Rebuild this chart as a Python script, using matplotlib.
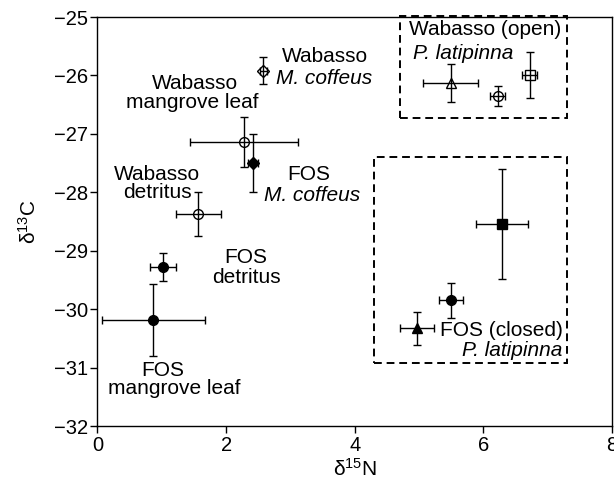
import matplotlib
matplotlib.use("Agg")
import matplotlib.pyplot as plt
from matplotlib.patches import Rectangle

plt.rcParams['font.family'] = ['Liberation Sans', 'DejaVu Sans']
plt.rcParams['mathtext.default'] = 'regular'

# --- data (d15N, d13C, with error) ---
names = ['Wab M. coffeus', 'Wab mangrove leaf', 'FOS M. coffeus', 'Wab detritus',
         'FOS detritus', 'FOS mangrove leaf', 'Wab P. lat tri', 'Wab P. lat circ',
         'Wab P. lat sq', 'FOS P. lat sq', 'FOS P. lat circ', 'FOS P. lat tri']
d15n = [2.58, 2.28, 2.42, 1.57, 1.02, 0.87, 5.49, 6.22, 6.72, 6.29, 5.50, 4.97]
d13c = [-25.92, -27.14, -27.50, -28.37, -29.28, -30.19, -26.13, -26.35, -25.99, -28.54, -29.85, -30.33]
n_err = [0.05, 0.84, 0.08, 0.35, 0.20, 0.80, 0.43, 0.12, 0.12, 0.40, 0.19, 0.27]
c_err = [0.23, 0.43, 0.49, 0.38, 0.24, 0.62, 0.33, 0.17, 0.39, 0.94, 0.30, 0.28]
markers = ['D', 'o', 'D', 'o', 'o', 'o', '^', 'o', 's', 's', 'o', '^']
filled = [False, False, True, False, True, True, False, False, False, True, True, True]

fig = plt.figure(figsize=(6.14, 4.86), dpi=100)
ax = fig.add_axes([97.5 / 614, 1 - 426 / 486, (612 - 97.5) / 614, (426 - 17) / 486])

for i in range(len(d15n)):
    ax.errorbar(d15n[i], d13c[i], xerr=n_err[i], yerr=c_err[i], fmt=markers[i],
                color='black', mfc='black' if filled[i] else 'none', mec='black',
                ms=7 if markers[i] != 'D' else 6, mew=1, elinewidth=1, capsize=3, capthick=1)

# dashed group boxes
ax.add_patch(Rectangle((4.71, -26.73), 2.59, 1.75, fill=False, ls=(0, (4, 2.5)), lw=1.4, clip_on=False))
ax.add_patch(Rectangle((4.30, -30.92), 3.00, 3.52, fill=False, ls=(0, (4, 2.5)), lw=1.4, clip_on=False))

fs = 15
ax.text(3.53, -25.68, 'Wabasso', ha='center', va='center', fontsize=fs)
ax.text(3.53, -26.06, 'M. coffeus', ha='center', va='center', fontsize=fs, style='italic')
ax.text(1.52, -26.13, 'Wabasso', ha='center', va='center', fontsize=fs)
ax.text(1.48, -26.47, 'mangrove leaf', ha='center', va='center', fontsize=fs)
ax.text(3.29, -27.70, 'FOS', ha='center', va='center', fontsize=fs)
ax.text(3.33, -28.05, 'M. coffeus', ha='center', va='center', fontsize=fs, style='italic')
ax.text(0.93, -27.69, 'Wabasso', ha='center', va='center', fontsize=fs)
ax.text(0.93, -28.01, 'detritus', ha='center', va='center', fontsize=fs)
ax.text(2.30, -29.11, 'FOS', ha='center', va='center', fontsize=fs)
ax.text(2.32, -29.45, 'detritus', ha='center', va='center', fontsize=fs)
ax.text(1.02, -31.05, 'FOS', ha='center', va='center', fontsize=fs)
ax.text(1.19, -31.36, 'mangrove leaf', ha='center', va='center', fontsize=fs)
ax.text(4.84, -25.22, 'Wabasso (open)', ha='left', va='center', fontsize=fs)
ax.text(4.90, -25.62, 'P. latipinna', ha='left', va='center', fontsize=fs, style='italic')
ax.text(7.23, -30.36, 'FOS (closed)', ha='right', va='center', fontsize=fs)
ax.text(7.23, -30.70, 'P. latipinna', ha='right', va='center', fontsize=fs, style='italic')

ax.set_xlim(0, 8)
ax.set_ylim(-32, -25)
ax.set_xticks([0, 2, 4, 6, 8])
ax.set_yticks(range(-32, -24))
ax.tick_params(direction='out', length=5, width=1, labelsize=14.5, pad=2)
for s in ax.spines.values():
    s.set_linewidth(1)

ax.set_xlabel('δ$^{15}$N', fontsize=15, labelpad=2)
ax.set_ylabel('δ$^{13}$C', fontsize=15, labelpad=10)

fig.savefig('out.png', dpi=100)
